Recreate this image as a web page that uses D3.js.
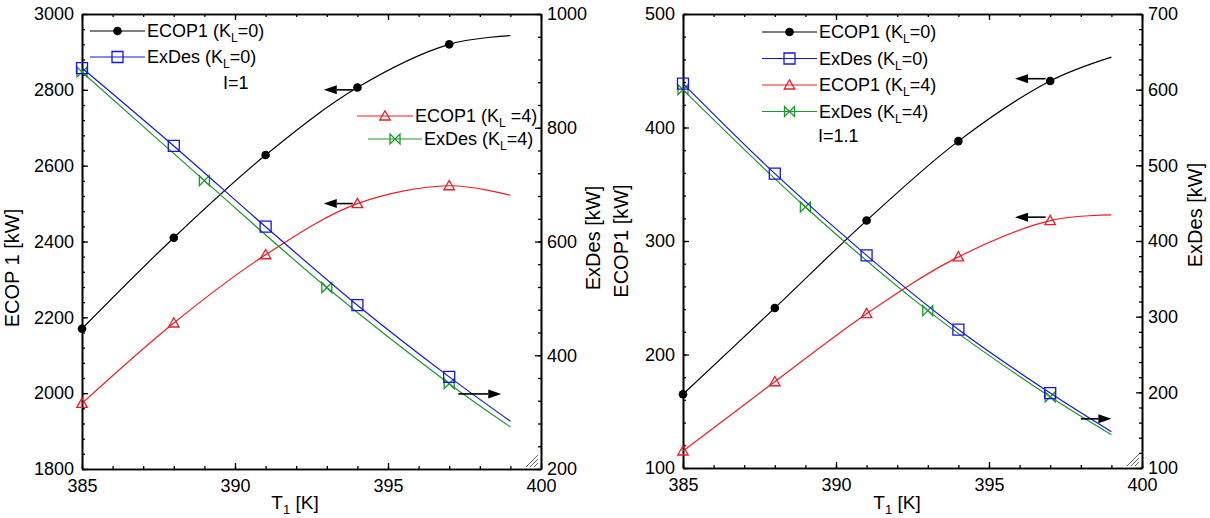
<!DOCTYPE html>
<html>
<head>
<meta charset="utf-8">
<script src="https://cdn.jsdelivr.net/npm/d3@7"></script>
<style>
  body { margin: 0; background: #fff; }
  svg { display: block; }
  text { font-family: "Liberation Sans", Arial, Helvetica, sans-serif; fill: #000; }
</style>
</head>
<body>
<svg id="chart" width="1210" height="518"></svg>
<script>
// Inlet temperature T1 [K] at which each series was evaluated
const tempMain = [385, 388, 391, 394, 397, 399];
const tempAlt  = [385, 389, 393, 397, 399];

// I = 1
const ecopK0_I1  = [2170, 2410, 2628, 2806, 2920, 2943];
const ecopK4_I1  = [1973, 2185, 2365, 2500, 2547, 2522];
const exdesK0_I1 = [905, 768, 626, 488, 362, 284];
const exdesK4_I1 = [898, 707, 519, 350, 274];

// I = 1.1
const ecopK0_I11  = [165, 241, 318, 388, 441, 462];
const ecopK4_I11  = [115, 176, 236, 286, 318, 323];
const exdesK0_I11 = [608, 489, 381, 283, 199, 148];
const exdesK4_I11 = [600, 445, 308, 194, 144];

// tick labels
const tempTicks       = [385, 390, 395, 400];
const ecopTicks_I1    = [1800, 2000, 2200, 2400, 2600, 2800, 3000];
const exdesTicks_I1   = [200, 400, 600, 800, 1000];
const ecopTicks_I11   = [100, 200, 300, 400, 500];
const exdesTicks_I11  = [100, 200, 300, 400, 500, 600, 700];

const FONT = '"Liberation Sans", Arial, Helvetica, sans-serif';
const svg = d3.select("#chart");
svg.append("rect").attr("width", 1210).attr("height", 518).attr("fill", "#fff");

const COLORS = { black: "#000000", blue: "#1515e0", red: "#ee1c24", green: "#1a9a2a" };

function markerPath(type, s) {
  if (type === "square") return `M${-s},${-s}H${s}V${s}H${-s}Z`;
  if (type === "triangle") return `M0,${-s * 1.05}L${s * 1.05},${s * 0.8}H${-s * 1.05}Z`;
  if (type === "bowtie") return `M${-s},${-s}L${s},${s}V${-s}L${-s},${s}Z`;
  return null;
}

function drawMarker(g, type, cx, cy, color) {
  if (type === "circle") {
    g.append("circle").attr("cx", cx).attr("cy", cy).attr("r", 4.3).attr("fill", color);
  } else {
    const s = type === "square" ? 5.5 : 5;
    g.append("path").attr("d", markerPath(type, s))
      .attr("transform", `translate(${cx},${cy})`)
      .attr("fill", "none").attr("stroke", color).attr("stroke-width", 1.3);
  }
}

function subLabel(g, x, y, parts, anchor) {
  // parts alternate: normal text, subscript, normal text
  const t = g.append("text").attr("x", x).attr("y", y).attr("font-size", 18)
    .attr("dy", "0.35em").attr("text-anchor", anchor || "start");
  parts.forEach((p, i) => {
    if (i % 2 === 0) {
      t.append("tspan").text(p).attr("dy", i === 0 ? null : -5).attr("font-size", 18);
    } else {
      t.append("tspan").text(p).attr("dy", 5).attr("font-size", 12);
    }
  });
  return t;
}

function arrow(g, x1, y1, x2, y2) {
  const ang = Math.atan2(y2 - y1, x2 - x1);
  const len = 13, w = 4.5;
  const bx = x2 - len * Math.cos(ang), by = y2 - len * Math.sin(ang);
  g.append("line").attr("x1", x1).attr("y1", y1).attr("x2", bx).attr("y2", by)
    .attr("stroke", "#000").attr("stroke-width", 1.6);
  const px = -Math.sin(ang) * w, py = Math.cos(ang) * w;
  g.append("path")
    .attr("d", `M${x2},${y2}L${bx + px},${by + py}L${bx - px},${by - py}Z`)
    .attr("fill", "#000");
}

function drawPanel(p) {
  const g = svg.append("g");
  const x = d3.scaleLinear().domain([385, 400]).range([p.left, p.right]);
  const yL = d3.scaleLinear().domain(p.leftDomain).range([p.bottom, p.top]);
  const yR = d3.scaleLinear().domain(p.rightDomain).range([p.bottom, p.top]);

  function styleAxis(sel) {
    sel.attr("font-family", FONT).attr("font-size", 18);
    sel.select(".domain").attr("stroke", "#000").attr("stroke-width", 1.6);
    sel.selectAll(".tick line").attr("stroke", "#000").attr("stroke-width", 1.3);
    sel.selectAll(".tick text").attr("fill", "#000");
  }

  // minor ticks
  const minorX = d3.range(385, 401, 1);
  const minorL = d3.range(p.leftDomain[0], p.leftDomain[1] + 1e-9, p.leftMinor);
  const minorR = d3.range(p.rightDomain[0], p.rightDomain[1] + 1e-9, p.rightMinor);
  g.append("g").attr("transform", `translate(0,${p.bottom})`)
    .call(d3.axisBottom(x).tickValues(minorX).tickSize(-3).tickSizeOuter(0).tickFormat(""))
    .call(styleAxis);
  g.append("g").attr("transform", `translate(0,${p.top})`)
    .call(d3.axisTop(x).tickValues(minorX).tickSize(-3).tickSizeOuter(0).tickFormat(""))
    .call(styleAxis);
  g.append("g").attr("transform", `translate(${p.left},0)`)
    .call(d3.axisLeft(yL).tickValues(minorL).tickSize(-3).tickSizeOuter(0).tickFormat(""))
    .call(styleAxis);
  g.append("g").attr("transform", `translate(${p.right},0)`)
    .call(d3.axisRight(yR).tickValues(minorR).tickSize(-3).tickSizeOuter(0).tickFormat(""))
    .call(styleAxis);

  // major ticks and labels
  g.append("g").attr("transform", `translate(0,${p.bottom})`)
    .call(d3.axisBottom(x).tickValues(tempTicks).tickSize(-6).tickPadding(10).tickSizeOuter(0).tickFormat(d3.format("d")))
    .call(styleAxis);
  g.append("g").attr("transform", `translate(0,${p.top})`)
    .call(d3.axisTop(x).tickValues(tempTicks).tickSize(-6).tickSizeOuter(0).tickFormat(""))
    .call(styleAxis);
  g.append("g").attr("transform", `translate(${p.left},0)`)
    .call(d3.axisLeft(yL).tickValues(p.leftTicks).tickSize(-6).tickPadding(8).tickSizeOuter(0).tickFormat(d3.format("d")))
    .call(styleAxis);
  g.append("g").attr("transform", `translate(${p.right},0)`)
    .call(d3.axisRight(yR).tickValues(p.rightTicks).tickSize(-6).tickPadding(6).tickSizeOuter(0).tickFormat(d3.format("d")))
    .call(styleAxis);

  // series
  p.series.forEach(s => {
    const y = s.axis === "L" ? yL : yR;
    const pts = s.temps.map((t, i) => [x(t), y(s.values[i])]);
    g.append("path")
      .attr("d", d3.line().curve(d3.curveCatmullRom.alpha(0.5))(pts))
      .attr("fill", "none").attr("stroke", s.color).attr("stroke-width", 1.2);
    s.temps.forEach((t, i) => {
      if (t <= 397) drawMarker(g, s.marker, x(t), y(s.values[i]), s.color);
    });
  });

  // arrows pointing to the axis each family belongs to
  p.arrows.forEach(a => {
    const y = a.axis === "L" ? yL : yR;
    arrow(g, x(a.from), y(a.value), x(a.to), y(a.value));
  });

  // legend
  p.legend.forEach(e => {
    g.append("line").attr("x1", e.x1).attr("x2", e.x2).attr("y1", e.y).attr("y2", e.y)
      .attr("stroke", e.color).attr("stroke-width", 1.2);
    drawMarker(g, e.marker, (e.x1 + e.x2) / 2, e.y, e.color);
    subLabel(g, e.x2 + 2, e.y, e.parts);
  });
  g.append("text").attr("x", p.note.x).attr("y", p.note.y).attr("dy", "0.35em")
    .attr("font-size", 18).text(p.note.text);

  // axis titles
  g.append("text").attr("transform", `translate(${p.leftTitle.x},${p.leftTitle.y}) rotate(-90)`)
    .attr("text-anchor", "middle").attr("dy", "0.35em").attr("font-size", 20).text(p.leftTitle.text);
  g.append("text").attr("transform", `translate(${p.rightTitle.x},${p.rightTitle.y}) rotate(-90)`)
    .attr("text-anchor", "middle").attr("dy", "0.35em").attr("font-size", 20).text(p.rightTitle.text);
  const xt = g.append("text").attr("x", p.xTitle.x).attr("y", p.xTitle.y).attr("dy", "0.35em")
    .attr("text-anchor", "middle").attr("font-size", 19);
  xt.append("tspan").text("T");
  xt.append("tspan").text("1").attr("font-size", 13).attr("dy", 5);
  xt.append("tspan").text(" [K]").attr("dy", -5);

  // small resize grip in the lower-right corner of the frame
  [0, 4, 8].forEach(o => {
    g.append("line")
      .attr("x1", p.right - 15 + o).attr("y1", p.bottom - 2)
      .attr("x2", p.right - 3).attr("y2", p.bottom - 14 + o)
      .attr("stroke", "#666").attr("stroke-width", 1);
  });
}

const legendParts = {
  ecop0: ["ECOP1 (K", "L", "=0)"],
  exdes0: ["ExDes (K", "L", "=0)"],
  ecop4: ["ECOP1 (K", "L", " =4)"],
  exdes4: ["ExDes (K", "L", "=4)"]
};

drawPanel({
  left: 82, right: 541, top: 14, bottom: 469,
  leftDomain: [1800, 3000], rightDomain: [200, 1000],
  leftTicks: ecopTicks_I1, rightTicks: exdesTicks_I1,
  leftMinor: 40, rightMinor: 40,
  series: [
    { temps: tempMain, values: ecopK0_I1, axis: "L", color: COLORS.black, marker: "circle" },
    { temps: tempMain, values: ecopK4_I1, axis: "L", color: COLORS.red, marker: "triangle" },
    { temps: tempAlt, values: exdesK4_I1, axis: "R", color: COLORS.green, marker: "bowtie" },
    { temps: tempMain, values: exdesK0_I1, axis: "R", color: COLORS.blue, marker: "square" }
  ],
  arrows: [
    { axis: "L", value: 2800, from: 393.85, to: 392.9 },
    { axis: "L", value: 2500, from: 393.85, to: 392.9 },
    { axis: "R", value: 332, from: 397.3, to: 398.7 }
  ],
  legend: [
    { x1: 90, x2: 145, y: 31, color: COLORS.black, marker: "circle", parts: legendParts.ecop0 },
    { x1: 90, x2: 145, y: 57, color: COLORS.blue, marker: "square", parts: legendParts.exdes0 },
    { x1: 357, x2: 413, y: 116, color: COLORS.red, marker: "triangle", parts: legendParts.ecop4 },
    { x1: 368, x2: 422, y: 139, color: COLORS.green, marker: "bowtie", parts: legendParts.exdes4 }
  ],
  note: { x: 223, y: 83, text: "I=1" },
  leftTitle: { x: 12, y: 268, text: "ECOP 1 [kW]" },
  rightTitle: { x: 593, y: 238, text: "ExDes [kW]" },
  xTitle: { x: 295, y: 502 }
});

drawPanel({
  left: 683, right: 1142, top: 14, bottom: 468,
  leftDomain: [100, 500], rightDomain: [100, 700],
  leftTicks: ecopTicks_I11, rightTicks: exdesTicks_I11,
  leftMinor: 20, rightMinor: 20,
  series: [
    { temps: tempMain, values: ecopK0_I11, axis: "L", color: COLORS.black, marker: "circle" },
    { temps: tempMain, values: ecopK4_I11, axis: "L", color: COLORS.red, marker: "triangle" },
    { temps: tempAlt, values: exdesK4_I11, axis: "R", color: COLORS.green, marker: "bowtie" },
    { temps: tempMain, values: exdesK0_I11, axis: "R", color: COLORS.blue, marker: "square" }
  ],
  arrows: [
    { axis: "L", value: 443, from: 396.85, to: 395.85 },
    { axis: "L", value: 321, from: 396.85, to: 395.85 },
    { axis: "R", value: 165, from: 398.0, to: 399.0 }
  ],
  legend: [
    { x1: 762, x2: 817, y: 32, color: COLORS.black, marker: "circle", parts: legendParts.ecop0 },
    { x1: 762, x2: 817, y: 58.5, color: COLORS.blue, marker: "square", parts: legendParts.exdes0 },
    { x1: 762, x2: 817, y: 85, color: COLORS.red, marker: "triangle", parts: legendParts.ecop4.map(s => s.replace(" =", "=")) },
    { x1: 762, x2: 817, y: 111.5, color: COLORS.green, marker: "bowtie", parts: legendParts.exdes4 }
  ],
  note: { x: 818, y: 136, text: "I=1.1" },
  leftTitle: { x: 621, y: 241, text: "ECOP1 [kW]" },
  rightTitle: { x: 1195, y: 215, text: "ExDes [kW]" },
  xTitle: { x: 897, y: 502 }
});
</script>
</body>
</html>
